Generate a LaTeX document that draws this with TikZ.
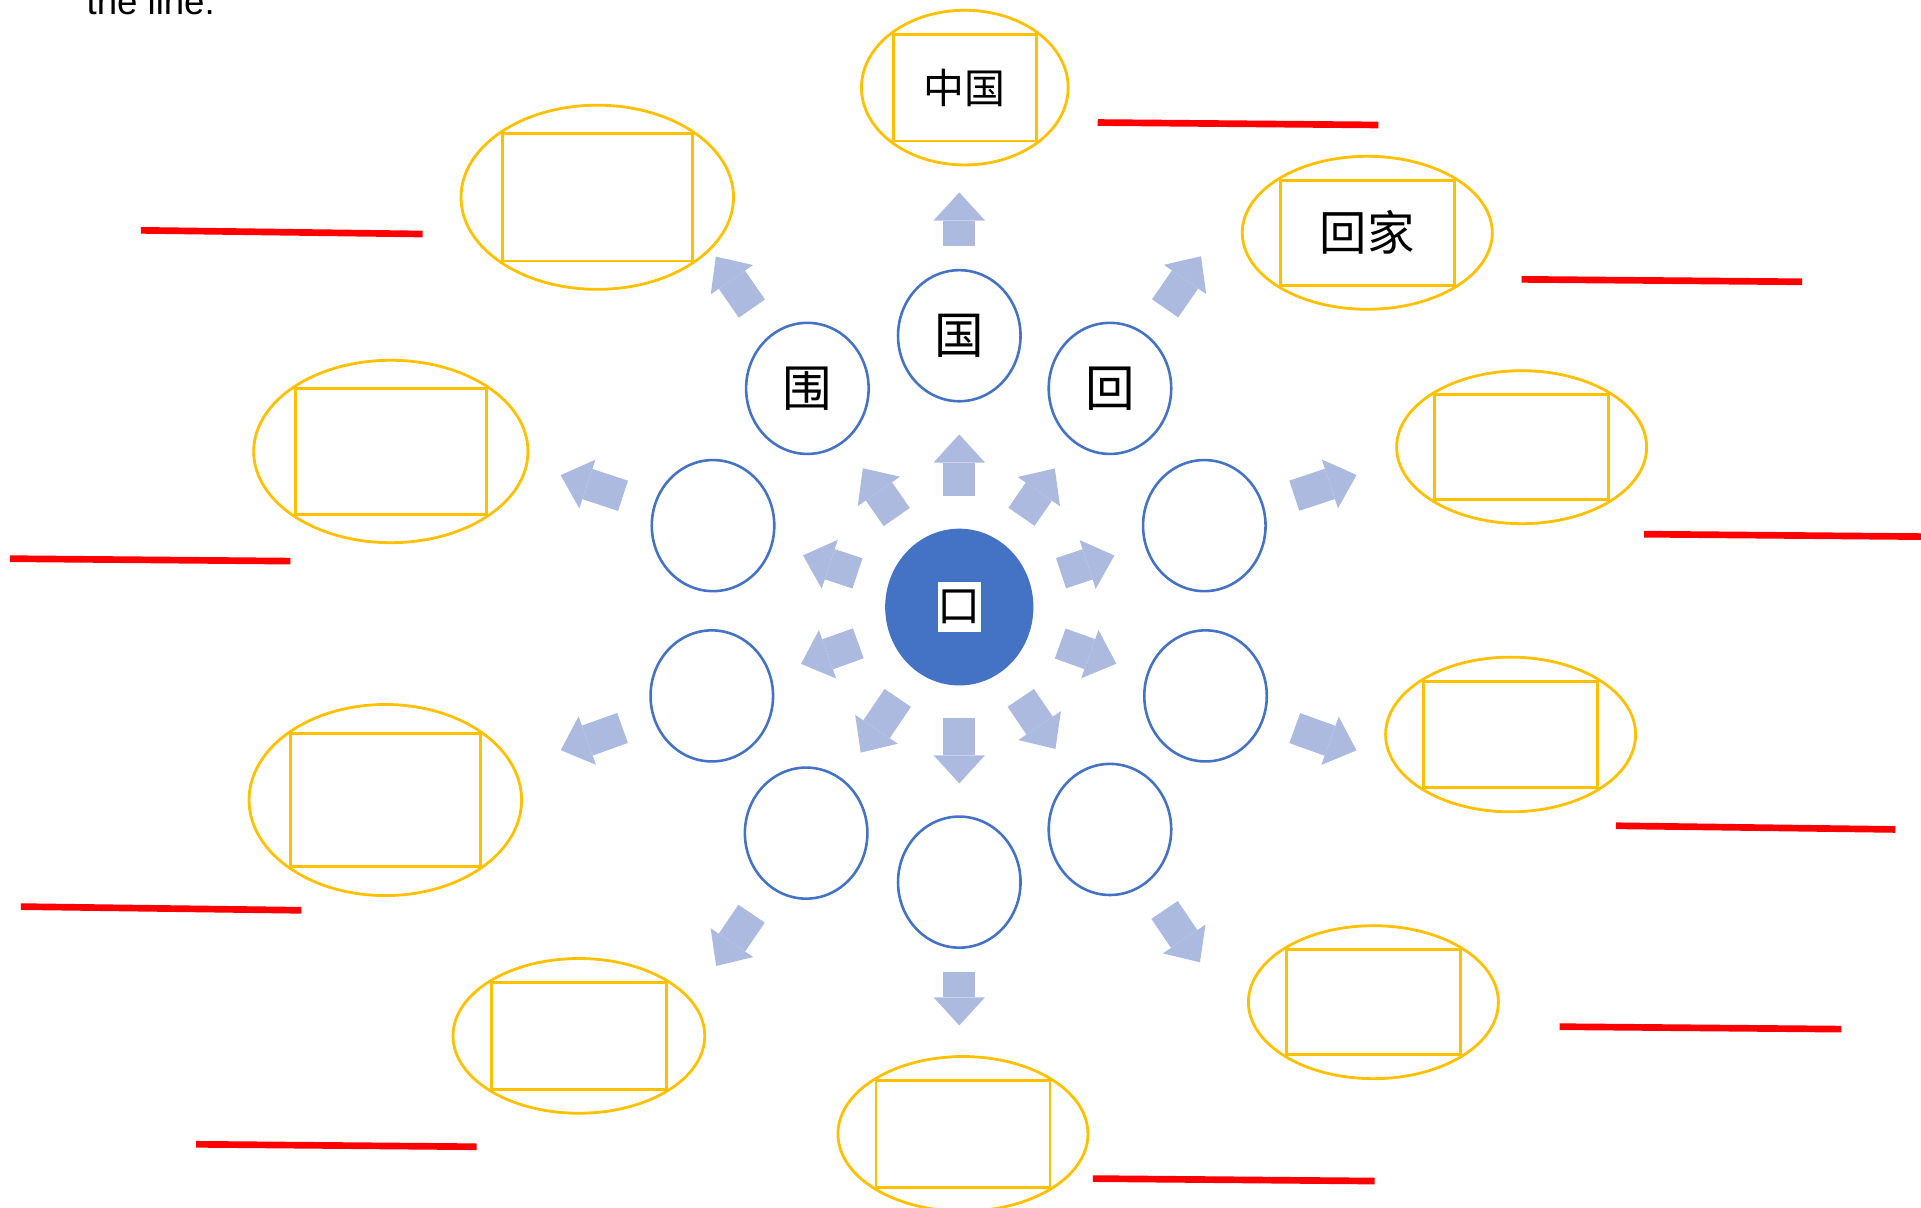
\documentclass[tikz,border=0pt]{standalone}
\usepackage{fontspec}
\newfontfamily\cjk{Noto Sans CJK SC}
\newfontfamily\arial{Liberation Sans}
\usepackage{tikz}
\usetikzlibrary{arrows.meta,positioning,calc,fit,shapes.geometric}
\definecolor{ringblue}{HTML}{4472C4}
\definecolor{arrowblue}{HTML}{ABBADE}
\definecolor{gold}{HTML}{FFC000}
\definecolor{answerred}{HTML}{FF0000}
\tikzset{charring/.style={draw=ringblue,line width=0.6pt,ellipse,minimum width=1cm,minimum height=1.07cm,inner sep=0pt,font=\cjk\fontsize{11.5pt}{12pt}\selectfont}}
\tikzset{wordbox/.style={draw=gold,line width=0.65pt,inner sep=0pt,font=\cjk\fontsize{10pt}{12pt}\selectfont}}
\tikzset{wordring/.style={draw=gold,line width=0.65pt,ellipse,inner sep=0pt}}
\tikzset{spoke/.style={draw=arrowblue,line width=0.26cm,-{Triangle[width=0.42cm,length=0.23cm,line width=0pt]}}}
\tikzset{inspoke/.style={spoke,shorten <=0.26cm,shorten >=0.26cm}}
\tikzset{outspoke/.style={spoke,shorten <=0.26cm}}
\tikzset{answer/.style={draw=answerred,line width=1.55pt}}

\begin{document}
\begin{tikzpicture}[x=1cm, y=-1cm]
        \useasboundingbox (0,0) rectangle (15.68,9.86);
        \node[anchor=base west,inner sep=0pt,font=\arial\fontsize{8.5pt}{10pt}\selectfont] (note) at (0.70,0.12) {the line.};
        % centre
        \node[ellipse,fill=ringblue,minimum width=1.21cm,minimum height=1.28cm] (ctr) at (7.83,4.955) {};
        \node[fill=white,minimum width=0.35cm,minimum height=0.41cm,inner sep=0pt,font=\cjk\fontsize{10pt}{12pt}\selectfont] (kou) at (ctr) {口};
        % ring of characters
        \node[charring] (guo) at (7.83,2.74) {国};
        \node[charring] (wei) at (6.59,3.17) {围};
        \node[charring] (hui) at (9.06,3.17) {回};
        \node[charring] (lefta) at (5.82,4.29) {};
        \node[charring] (righta) at (9.83,4.29) {};
        \node[charring] (leftb) at (5.81,5.68) {};
        \node[charring] (rightb) at (9.84,5.68) {};
        \node[charring] (bottoml) at (6.58,6.80) {};
        \node[charring] (bottom) at (7.83,7.20) {};
        \node[charring] (bottomr) at (9.06,6.77) {};
        % words
        \node[wordbox,minimum width=1.17cm,minimum height=0.87cm,font=\cjk\fontsize{9.5pt}{12pt}\selectfont] (zhongguo) at (7.875,0.715) {中国};
        \node[wordbox,minimum width=1.55cm,minimum height=1.04cm] (boxwei) at (4.875,1.61) {};
        \node[wordbox,minimum width=1.42cm,minimum height=0.86cm,font=\cjk\fontsize{11pt}{12pt}\selectfont] (huijia) at (11.16,1.90) {回家};
        \node[wordbox,minimum width=1.56cm,minimum height=1.03cm] (boxlefta) at (3.19,3.685) {};
        \node[wordbox,minimum width=1.42cm,minimum height=0.86cm] (boxrighta) at (12.42,3.65) {};
        \node[wordbox,minimum width=1.55cm,minimum height=1.08cm] (boxleftb) at (3.145,6.53) {};
        \node[wordbox,minimum width=1.42cm,minimum height=0.87cm] (boxrightb) at (12.33,5.995) {};
        \node[wordbox,minimum width=1.43cm,minimum height=0.87cm] (boxbottoml) at (4.725,8.455) {};
        \node[wordbox,minimum width=1.42cm,minimum height=0.87cm] (boxbottom) at (7.86,9.255) {};
        \node[wordbox,minimum width=1.42cm,minimum height=0.86cm] (boxbottomr) at (11.21,8.18) {};
        \node[wordring,fit=(zhongguo)] (ringzhongguo) {};
        \node[wordring,fit=(boxwei)] (ringwei) {};
        \node[wordring,fit=(huijia)] (ringhuijia) {};
        \node[wordring,fit=(boxlefta)] (ringlefta) {};
        \node[wordring,fit=(boxrighta)] (ringrighta) {};
        \node[wordring,fit=(boxleftb)] (ringleftb) {};
        \node[wordring,fit=(boxrightb)] (ringrightb) {};
        \node[wordring,fit=(boxbottoml)] (ringbottoml) {};
        \node[wordring,fit=(boxbottom)] (ringbottom) {};
        \node[wordring,fit=(boxbottomr)] (ringbottomr) {};
        % arrows out of the centre
        \draw[inspoke] (ctr) -- (guo);
        \draw[inspoke] (ctr) -- (wei);
        \draw[inspoke] (ctr) -- (hui);
        \draw[inspoke] (ctr) -- (lefta);
        \draw[inspoke] (ctr) -- (righta);
        \draw[inspoke] (ctr) -- (leftb);
        \draw[inspoke] (ctr) -- (rightb);
        \draw[inspoke] (ctr) -- (bottoml);
        \draw[inspoke] (ctr) -- (bottom);
        \draw[inspoke] (ctr) -- (bottomr);
        % arrows out of the ring
        \draw[outspoke,shorten <=0.19cm] (guo) -- ($(guo)!-1.17cm!(ctr)$);
        \draw[outspoke] (wei) -- ($(wei)!-1.31cm!(ctr)$);
        \draw[outspoke] (hui) -- ($(hui)!-1.31cm!(ctr)$);
        \draw[outspoke] (lefta) -- ($(lefta)!-1.31cm!(ctr)$);
        \draw[outspoke] (righta) -- ($(righta)!-1.31cm!(ctr)$);
        \draw[outspoke] (leftb) -- ($(leftb)!-1.31cm!(ctr)$);
        \draw[outspoke] (rightb) -- ($(rightb)!-1.31cm!(ctr)$);
        \draw[outspoke] (bottoml) -- ($(bottoml)!-1.31cm!(ctr)$);
        \draw[outspoke,shorten <=0.19cm] (bottom) -- ($(bottom)!-1.17cm!(ctr)$);
        \draw[outspoke] (bottomr) -- ($(bottomr)!-1.31cm!(ctr)$);
        % answer lines
        \draw[answer] (8.96,1.00) -- (11.25,1.02);
        \draw[answer] (1.15,1.88) -- (3.45,1.91);
        \draw[answer] (12.42,2.28) -- (14.71,2.30);
        \draw[answer] (0.08,4.56) -- (2.37,4.58);
        \draw[answer] (13.42,4.36) -- (15.70,4.38);
        \draw[answer] (0.17,7.40) -- (2.46,7.43);
        \draw[answer] (13.19,6.74) -- (15.47,6.77);
        \draw[answer] (1.60,9.34) -- (3.89,9.36);
        \draw[answer] (8.92,9.62) -- (11.22,9.64);
        \draw[answer] (12.73,8.38) -- (15.03,8.40);
\end{tikzpicture}
\end{document}
